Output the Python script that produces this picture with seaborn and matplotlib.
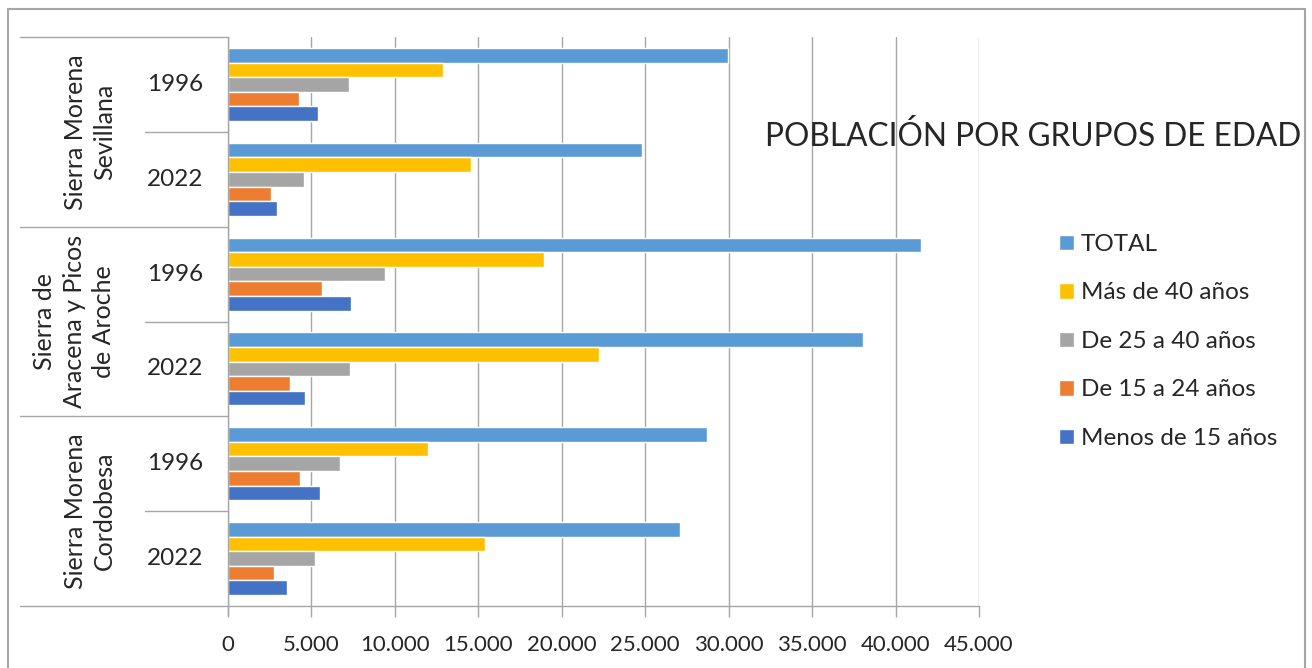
import matplotlib
matplotlib.use("Agg")
import matplotlib.pyplot as plt
import matplotlib.transforms as mtransforms
from matplotlib.lines import Line2D
import seaborn as sns
import pandas as pd

# ---- data ----
regions = ["Sierra Morena\nSevillana", "Sierra de\nAracena y Picos\nde Aroche", "Sierra Morena\nCordobesa"]
years = ["1996", "2022"]
series = ["TOTAL", "Más de 40 años", "De 25 a 40 años", "De 15 a 24 años", "Menos de 15 años"]
# rows: Sevillana 1996, Sevillana 2022, Aracena 1996, Aracena 2022, Cordobesa 1996, Cordobesa 2022
total      = [29970, 24800, 41520, 38050, 28700, 27080]
mas40      = [12880, 14560, 18930, 22230, 11980, 15400]
de25a40    = [7250, 4550, 9400, 7310, 6710, 5210]
de15a24    = [4250, 2580, 5630, 3710, 4310, 2760]
menos15    = [5390, 2940, 7370, 4610, 5510, 3540]
xticks = [0, 5000, 10000, 15000, 20000, 25000, 30000, 35000, 40000, 45000]
xtick_labels = ["0", "5.000", "10.000", "15.000", "20.000", "25.000", "30.000", "35.000", "40.000", "45.000"]
title = "POBLACIÓN POR GRUPOS DE EDAD"

colors = ["#5B9BD5", "#FFC000", "#A5A5A5", "#ED7D31", "#4472C4"]

cats = [f"{r}|{y}" for r in regions for y in years]
vals = [total, mas40, de25a40, de15a24, menos15]
rows = []
for s, v in zip(series, vals):
    for c, val in zip(cats, v):
        rows.append({"cat": c, "serie": s, "valor": val})
df = pd.DataFrame(rows)

sns.set_style("white")
plt.rcParams["font.family"] = ["Lato", "DejaVu Sans"]

W, H = 1312, 668
fig = plt.figure(figsize=(W / 100, H / 100), dpi=100)
L, R, T, B = 228, 979, 37, 606
ax = fig.add_axes([L / W, 1 - B / H, (R - L) / W, (B - T) / H])

sns.barplot(data=df, y="cat", x="valor", hue="serie", hue_order=series,
            order=cats, palette=colors, orient="h", width=0.77,
            saturation=1, ax=ax, legend=True)

ax.set_xlim(0, 45000)
ax.set_ylim(5.5, -0.5)
ax.set_xticks(xticks)
ax.set_xticklabels(xtick_labels, fontsize=16)
ax.set_yticks([])
ax.set_xlabel("")
ax.set_ylabel("")
gc = "#A6A6A6"
ax.grid(axis="x", color=gc, linewidth=1)
ax.set_axisbelow(True)
for sp in ["top", "right"]:
    ax.spines[sp].set_visible(False)
for sp in ["left", "bottom"]:
    ax.spines[sp].set_color(gc)
    ax.spines[sp].set_linewidth(1)
ax.tick_params(axis="x", length=8, color=gc, width=1, pad=13, bottom=True)

# category table
tr = mtransforms.blended_transform_factory(ax.transAxes, ax.transData)
pxw = R - L
def fx(px):
    return (px - L) / pxw
for yb in [-0.5, 1.5, 3.5, 5.5]:
    ax.add_line(Line2D([fx(20), 0], [yb, yb], transform=tr, color=gc, lw=1, clip_on=False))
for yb in [0.5, 2.5, 4.5]:
    ax.add_line(Line2D([fx(145), 0], [yb, yb], transform=tr, color=gc, lw=1, clip_on=False))
ax.add_line(Line2D([0, 0], [5.5, 5.59], transform=tr, color=gc, lw=1, clip_on=False))
for i, c in enumerate(cats):
    ax.text(fx(175), i, c.split("|")[1], transform=tr, ha="center", va="center", fontsize=17.5)
region_x = [90, 74, 90]
for g, r in enumerate(regions):
    ax.text(fx(region_x[g]), 2 * g + 0.5, r, transform=tr, ha="center", va="center",
            rotation=90, fontsize=18, linespacing=1.35)

# title
fig.text(1033 / W, 1 - 136 / H, title, ha="center", va="center", fontsize=22.8)

# legend
leg = ax.legend(loc="upper left", bbox_to_anchor=(1059 / W, 1 - 234 / H),
                bbox_transform=fig.transFigure, frameon=False, fontsize=17.5,
                handlelength=0.6, handleheight=0.6, handletextpad=0.3,
                labelspacing=1.13, borderaxespad=0, borderpad=0)

# outer border
for xs, ys in [([8, 8], [9, 668]), ([8, 1305], [9, 9]), ([1305, 1305], [9, 668])]:
    fig.add_artist(Line2D([x / W for x in xs], [1 - y / H for y in ys],
                          transform=fig.transFigure, color="#A6A6A6", lw=1.5))

fig.savefig("out.png", dpi=100)
